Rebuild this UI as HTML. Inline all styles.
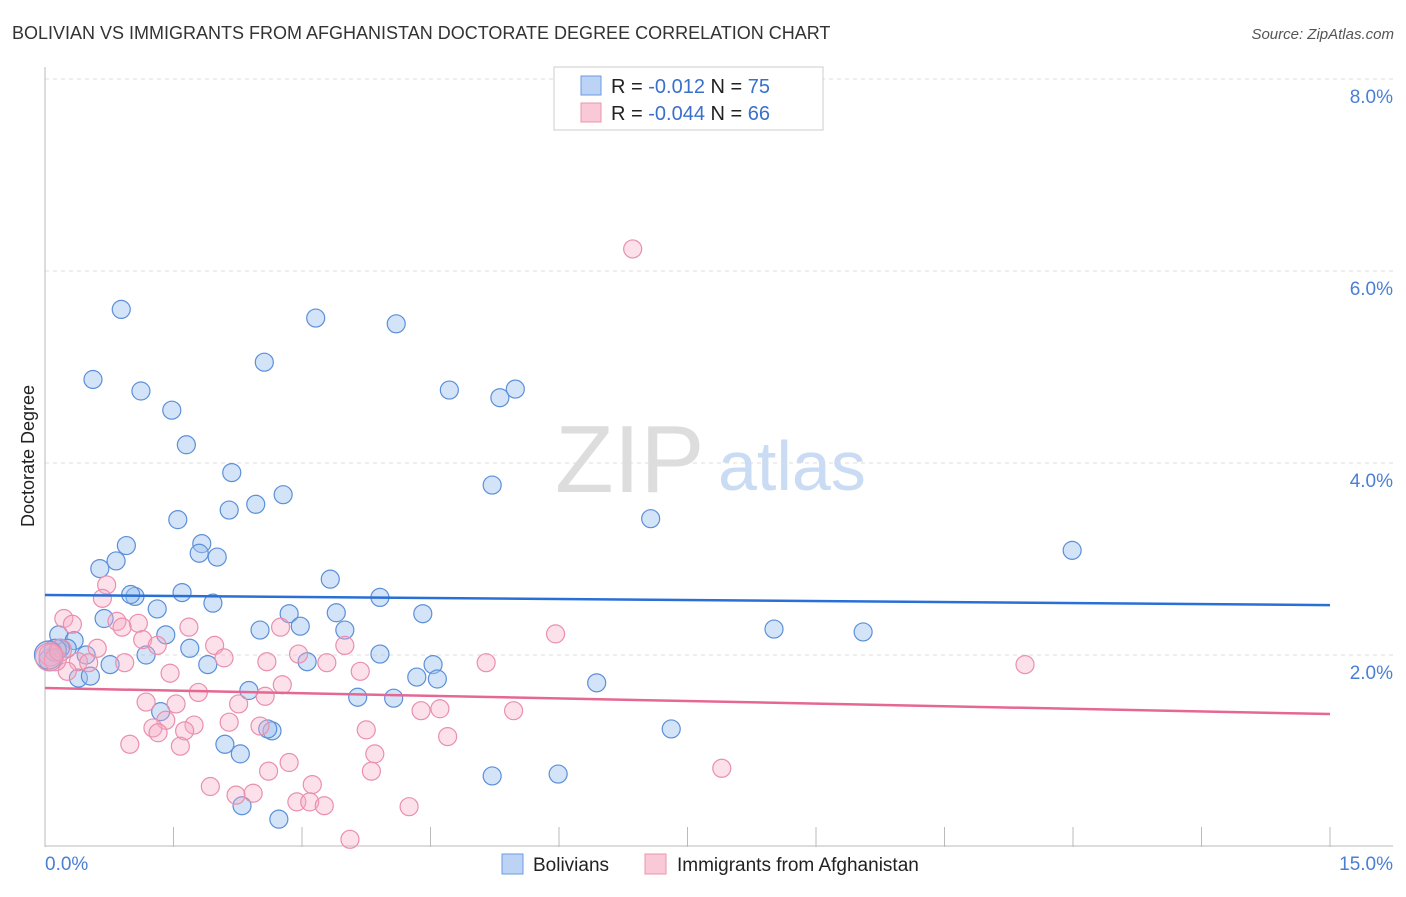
<!DOCTYPE html>
<html><head><meta charset="utf-8"><style>
body{margin:0;background:#fff;font-family:"Liberation Sans",sans-serif;}
svg text{font-family:"Liberation Sans",sans-serif;}
</style></head><body>
<svg width="1406" height="892" xmlns="http://www.w3.org/2000/svg" id="chart">
<text x="12" y="39" font-size="18" fill="#333">BOLIVIAN VS IMMIGRANTS FROM AFGHANISTAN DOCTORATE DEGREE CORRELATION CHART</text>
<text x="1394" y="39" font-size="15" fill="#555" font-style="italic" text-anchor="end">Source: ZipAtlas.com</text>
<text x="34" y="456" font-size="18" fill="#222" text-anchor="middle" transform="rotate(-90 34 456)">Doctorate Degree</text>
<g><text x="555" y="492" font-size="96" fill="#ddd" font-family="Liberation Serif">ZIP</text><text x="718" y="490" font-size="70" fill="#c9dcf3">atlas</text></g>
<g id="grid"></g><g id="axes"></g><g id="blue"></g><g id="pink"></g><g id="trend"></g>
<g>
<rect x="554" y="67" width="269" height="63" fill="#fff" stroke="#ccc"/>
<rect x="581" y="76" width="20" height="19" fill="#bcd3f5" stroke="#6a9be0"/>
<rect x="581" y="103" width="20" height="19" fill="#f9c9d8" stroke="#ea95b1"/>
<text x="611" y="93" font-size="20" fill="#222">R = <tspan fill="#3a70cc"> -0.012</tspan>   N = <tspan fill="#3a70cc">75</tspan></text>
<text x="611" y="120" font-size="20" fill="#222">R = <tspan fill="#3a70cc">-0.044</tspan>   N = <tspan fill="#3a70cc">66</tspan></text>
</g>
<g>
<rect x="502" y="854" width="21" height="20" fill="#bcd3f5" stroke="#6a9be0"/>
<text x="533" y="871" font-size="19" fill="#222">Bolivians</text>
<rect x="645" y="854" width="21" height="20" fill="#f9c9d8" stroke="#ea95b1"/>
<text x="677" y="871" font-size="19" fill="#222">Immigrants from Afghanistan</text>
</g>
</svg>
<script>
const yTicks=[2,4,6,8];
const yTickLabels=["2.0%","4.0%","6.0%","8.0%"];
const xTickLabels=["0.0%","15.0%"];
const blueX=[0.89,3.16,4.10,2.56,0.56,1.12,1.48,4.72,5.49,5.31,1.65,2.18,5.22,2.78,1.55,2.46,2.15,7.07,11.99,0.95,1.83,1.80,2.01,0.83,0.64,3.33,1.60,1.05,1.00,3.91,1.31,1.96,0.69,2.85,3.40,4.41,2.98,2.51,3.50,1.41,8.51,9.55,0.16,0.34,0.26,0.18,0.48,1.18,1.69,3.91,0.76,1.90,3.06,4.53,4.58,0.39,0.53,4.34,6.44,2.38,3.65,4.07,1.35,7.31,2.65,2.60,2.10,2.28,5.22,5.99,2.30,2.73,0.06,0.12,0.04];
const blueY=[5.60,5.51,5.45,5.05,4.87,4.75,4.55,4.76,4.77,4.68,4.19,3.90,3.77,3.67,3.41,3.57,3.51,3.42,3.09,3.14,3.16,3.06,3.02,2.98,2.90,2.79,2.65,2.61,2.63,2.60,2.48,2.54,2.38,2.43,2.44,2.43,2.30,2.26,2.26,2.21,2.27,2.24,2.21,2.15,2.07,2.07,2.00,2.00,2.07,2.01,1.90,1.90,1.93,1.90,1.75,1.76,1.78,1.77,1.71,1.63,1.56,1.55,1.41,1.23,1.21,1.23,1.07,0.97,0.74,0.76,0.43,0.29,1.95,2.05,2.00];
const pinkX=[6.86,0.72,0.67,0.84,1.09,0.90,0.22,0.32,1.68,1.14,2.75,0.61,1.31,1.98,3.50,5.96,5.15,11.44,0.39,0.51,0.26,0.93,2.96,3.29,3.68,1.46,2.59,2.09,1.79,2.77,1.18,1.53,2.26,2.57,1.41,1.74,2.15,2.51,4.39,4.61,5.47,1.26,1.63,1.32,3.75,4.70,0.99,1.58,3.85,2.61,2.85,3.81,7.90,1.93,2.23,2.43,3.12,2.94,3.09,3.26,4.25,3.56,0.06,0.12,0.18,0.05];
const pinkY=[6.23,2.73,2.59,2.35,2.33,2.29,2.38,2.32,2.29,2.16,2.29,2.07,2.10,2.10,2.10,2.22,1.92,1.90,1.93,1.92,1.83,1.92,2.01,1.92,1.83,1.81,1.93,1.97,1.61,1.69,1.51,1.49,1.49,1.57,1.32,1.27,1.30,1.26,1.42,1.44,1.42,1.24,1.21,1.19,1.22,1.15,1.07,1.05,0.97,0.79,0.88,0.79,0.82,0.63,0.54,0.56,0.65,0.47,0.47,0.43,0.42,0.08,2.00,1.95,2.05,1.98];
const trendXs=[0,15];
const blueTrend=[2.625,2.52];
const pinkTrend=[1.656,1.385];
const NS="http://www.w3.org/2000/svg";
const X0=45,X1=1330,Y0=847;
function sx(v){return X0+(X1-X0)*v/15;}
function sy(v){return Y0-96*v;}
function mk(tag,attrs,parent){const e=document.createElementNS(NS,tag);for(const k in attrs)e.setAttribute(k,attrs[k]);document.getElementById(parent).appendChild(e);return e;}
yTicks.forEach((t,i)=>{
  const l=mk('line',{x1:X0,x2:1393,y1:sy(t),y2:sy(t),stroke:'#ddd','stroke-dasharray':'4,4'},'grid');
  
  
  const tx=mk('text',{x:1393,y:sy(t)+24,'font-size':19,fill:'#4a7fd4','text-anchor':'end'},'grid');
  tx.textContent=yTickLabels[i];
  
  
});
let ax=mk('line',{x1:X0,x2:X0,y1:67,y2:Y0,stroke:'#bbb'},'axes');


ax=mk('line',{x1:X0,x2:1393,y1:Y0-1,y2:Y0-1,stroke:'#bbb'},'axes');


for(let i=1;i<=10;i++){
  const t=mk('line',{x1:sx(i*1.5),x2:sx(i*1.5),y1:827,y2:Y0,stroke:'#bbb'},'axes');
  
  
}
let xl=mk('text',{x:45,y:870,'font-size':19,fill:'#4a7fd4'},'axes');
xl.textContent=xTickLabels[0];


xl=mk('text',{x:1393,y:870,'font-size':19,fill:'#4a7fd4','text-anchor':'end'},'axes');
xl.textContent=xTickLabels[1];


blueX.forEach((v,i)=>{
  const r=(i>=72)?(i==74?14:11):9;
  const c=mk('circle',{cx:sx(v),cy:sy(blueY[i]),r:r,fill:'rgba(160,195,240,0.45)',stroke:'#5b8fd9','stroke-width':1.2},'blue');
  
  
});
pinkX.forEach((v,i)=>{
  const r=(i>=62)?(i==65?14:11):9;
  const c=mk('circle',{cx:sx(v),cy:sy(pinkY[i]),r:r,fill:'rgba(245,170,195,0.35)',stroke:'#ea8fae','stroke-width':1.2},'pink');
  
  
});
let tl=mk('line',{x1:sx(trendXs[0]),x2:sx(trendXs[1]),y1:sy(blueTrend[0]),y2:sy(blueTrend[1]),stroke:'#2a6fd6','stroke-width':2.5},'trend');


tl=mk('line',{x1:sx(trendXs[0]),x2:sx(trendXs[1]),y1:sy(pinkTrend[0]),y2:sy(pinkTrend[1]),stroke:'#e56794','stroke-width':2.5},'trend');


</script>
</body></html>
